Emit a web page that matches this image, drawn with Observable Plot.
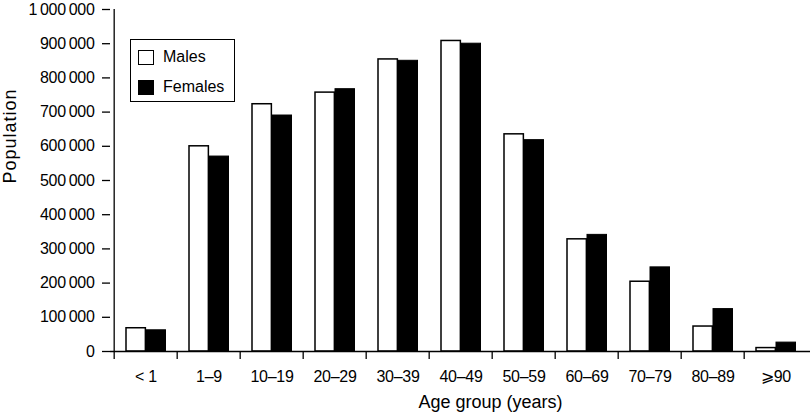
<!DOCTYPE html>
<html>
<head>
<meta charset="utf-8">
<script src="https://cdn.jsdelivr.net/npm/d3@7"></script>
<script src="https://cdn.jsdelivr.net/npm/@observablehq/plot@0.6"></script>
<style>
  html, body { margin: 0; padding: 0; background: white; }
  #wrap { position: relative; width: 810px; height: 416px; font-family: "Liberation Sans", Arial, Helvetica, sans-serif; }
  #legend { position: absolute; left: 130px; top: 39px; width: 105px; height: 63px; border: 1.2px solid #000; background: white; box-sizing: border-box; }
  .item { position: absolute; left: 7px; height: 16px; display: flex; align-items: center; font-size: 16px; }
  .sw { width: 16px; height: 15px; border: 1.3px solid #000; margin-right: 9px; box-sizing: border-box; }
  svg text { letter-spacing: -0.3px; }
</style>
</head>
<body>
<div id="wrap">
  <div id="chart"></div>
  <div id="legend">
    <div class="item" style="top:9px"><div class="sw" style="background:#fff"></div><span id="l0"></span></div>
    <div class="item" style="top:39px"><div class="sw" style="background:#000"></div><span id="l1"></span></div>
  </div>
</div>
<script>
const ages = ["< 1", "1–9", "10–19", "20–29", "30–39", "40–49", "50–59", "60–69", "70–79", "80–89", "⩾90"];
const males = [68000, 600000, 723000, 757000, 854000, 908000, 635000, 328000, 204000, 73000, 10000];
const females = [62000, 570000, 690000, 767000, 850000, 900000, 618000, 341000, 246000, 124000, 26000];
const seriesNames = ["Males", "Females"];
const yTicks = d3.range(0, 1000001, 100000);
const xTitle = "Age group (years)";
const yTitle = "Population";

document.getElementById("l0").textContent = seriesNames[0];
document.getElementById("l1").textContent = seriesNames[1];

const data = ages.map((a, i) => ({age: a, male: males[i], female: females[i]}));

const W = 810, H = 416, mL = 110, mR = 0, mT = 9, mB = 65;
const bw = (W - mL - mR) / ages.length;
const fmt = d3.formatLocale({decimal: ".", thousands: "\u2009", grouping: [3], currency: ["", ""]}).format(",d");

const chart = Plot.plot({
  width: W, height: H,
  marginLeft: mL, marginRight: mR, marginTop: mT, marginBottom: mB,
  style: {fontFamily: '"Liberation Sans", Arial, Helvetica, sans-serif', fontSize: "16px", color: "#000", background: "white", overflow: "visible"},
  x: {domain: ages, padding: 0, label: null, axis: null},
  y: {domain: [0, 1000000], label: null, axis: null},
  marks: [
    Plot.barY(data, {x: "age", y: "male", fill: "white", stroke: "#000", strokeWidth: 1.5, insetLeft: 12, insetRight: bw - 32}),
    Plot.barY(data, {x: "age", y: "female", fill: "#000", stroke: "#000", strokeWidth: 1, insetLeft: 32, insetRight: 11.5}),
    Plot.ruleY([0], {stroke: "#000", strokeWidth: 1.3}),
    Plot.ruleX([ages[0]], {x: d => d, dx: -bw / 2, y1: 0, y2: 1000000, stroke: "#000", strokeWidth: 1.3}),
    Plot.axisY({ticks: yTicks, tickSize: 8, tickPadding: 8, tickFormat: fmt, label: null, strokeWidth: 1.3, fontSize: 16}),
    Plot.axisX({tickSize: 8, tickFormat: () => "", label: null, dx: -bw / 2, strokeWidth: 1.3}),
    Plot.axisX({tickSize: 0, tickPadding: 19, label: null, fontSize: 16}),
    Plot.text([xTitle], {text: d => d, frameAnchor: "bottom", dx: 30, dy: 50.5, fontSize: 18, lineAnchor: "middle"}),
    Plot.text([yTitle], {text: d => d, frameAnchor: "left", dx: -100.5, dy: 3, rotate: -90, fontSize: 18, lineAnchor: "middle"})
  ]
});
document.getElementById("chart").appendChild(chart);
// axis titles: natural letter spacing
chart.querySelectorAll("text").forEach(t => {
  if (t.textContent === xTitle) t.style.letterSpacing = "0px";
  if (t.textContent === yTitle) t.style.letterSpacing = "1px";
});
</script>
</body>
</html>
